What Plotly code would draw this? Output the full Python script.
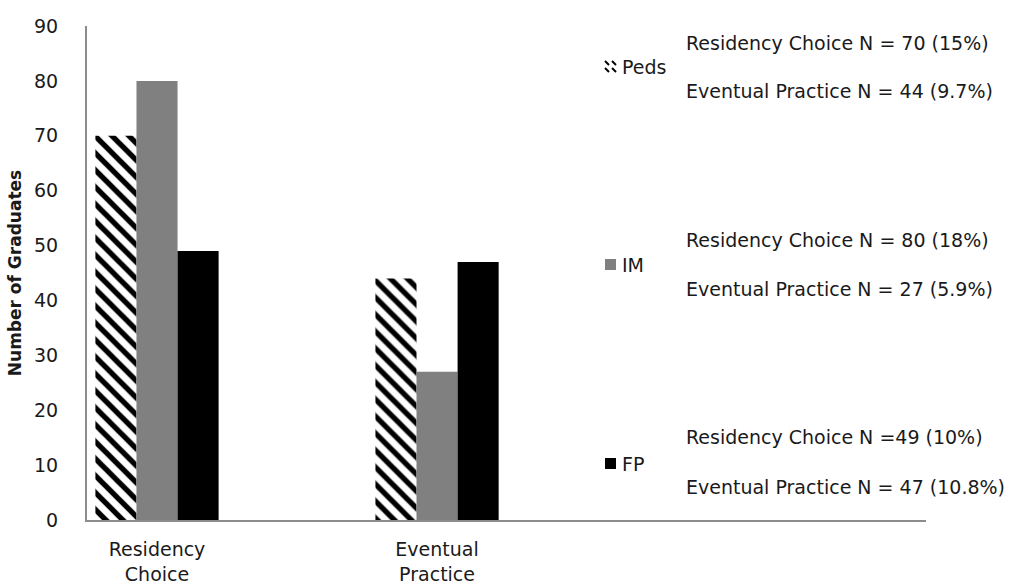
import plotly.graph_objects as go

# Graduates by specialty: residency choice vs. eventual practice
categories = ["Residency<br>Choice", "Eventual<br>Practice"]
series = ["Peds", "IM", "FP"]
residency_n = [70, 80, 49]
practice_n = [44, 27, 47]
residency_pct = ["15%", "18%", "10%"]
practice_pct = ["9.7%", "5.9%", "10.8%"]
y_ticks = [0, 10, 20, 30, 40, 50, 60, 70, 80, 90]

FONT = "DejaVu Sans"
TEXT = "#1a1a1a"
AXIS = "#8c8c8c"
FS = 19
KEY_FS = 19

fig = go.Figure()
x_pos = [0, 1]
styles = {
    "Peds": dict(color="white", pattern=dict(shape="\\", fgcolor="#000000", bgcolor="#ffffff",
                                             fgopacity=1, size=12, solidity=0.45,
                                             fillmode="replace")),
    "IM": dict(color="#808080"),
    "FP": dict(color="#000000"),
}
for i, name in enumerate(series):
    fig.add_trace(go.Bar(
        x=x_pos, y=[residency_n[i], practice_n[i]], name=name,
        marker=dict(line=dict(width=0), **styles[name]),
        showlegend=False,
    ))

# Right-hand key: swatch, series name and the two counts
PLOT_L, PLOT_R, PLOT_T, PLOT_B = 87, 926, 26, 520
def px(x):
    return (x - PLOT_L) / (PLOT_R - PLOT_L)
def py(y):
    return (PLOT_B - y) / (PLOT_B - PLOT_T)

key_rows = [(43, 67, 91), (240, 265, 289), (437, 464, 487)]
swatch = {"Peds": "white", "IM": "#808080", "FP": "#000000"}
shapes = []
annotations = []
for i, name in enumerate(series):
    top, mid, bot = key_rows[i]
    sep = "=" if name == "FP" else "= "
    annotations.append(dict(x=px(684), y=py(top), xref="paper", yref="paper",
                            text=f"Residency Choice N {sep}{residency_n[i]} ({residency_pct[i]})",
                            showarrow=False, xanchor="left", yanchor="middle",
                            font=dict(size=KEY_FS)))
    annotations.append(dict(x=px(684), y=py(bot), xref="paper", yref="paper",
                            text=f"Eventual Practice N = {practice_n[i]} ({practice_pct[i]})",
                            showarrow=False, xanchor="left", yanchor="middle",
                            font=dict(size=KEY_FS)))
    annotations.append(dict(x=px(620), y=py(mid), xref="paper", yref="paper",
                            text=name, showarrow=False, xanchor="left", yanchor="middle",
                            font=dict(size=KEY_FS)))
    x0, x1 = px(605), px(616)
    y0, y1 = py(mid + 5), py(mid - 6)
    shapes.append(dict(type="rect", xref="paper", yref="paper", x0=x0, x1=x1, y0=y0, y1=y1,
                       fillcolor=swatch[name], line=dict(width=0)))
    if name == "Peds":
        # small hatched swatch
        for a, b, c, d in [(605, mid - 6, 609, mid - 2), (612, mid - 6, 616, mid - 2),
                           (605, mid + 1, 609, mid + 5), (612, mid + 1, 616, mid + 5)]:
            shapes.append(dict(type="line", xref="paper", yref="paper",
                               x0=px(a), y0=py(b), x1=px(c), y1=py(d),
                               line=dict(color="black", width=2)))

fig.update_layout(
    width=1021, height=584,
    margin=dict(l=PLOT_L, r=1021 - PLOT_R, t=PLOT_T, b=584 - PLOT_B),
    paper_bgcolor="white", plot_bgcolor="white",
    barmode="group", bargap=0.56, bargroupgap=0,
    font=dict(family=FONT, size=FS, color=TEXT),
    shapes=shapes, annotations=annotations,
    xaxis=dict(range=[-0.25, 2.746], tickvals=x_pos, ticktext=categories,
               showline=True, linecolor=AXIS, linewidth=2, showgrid=False,
               ticks="", zeroline=False, tickfont=dict(size=FS), ticklabelstandoff=11,
               automargin=False),
    yaxis=dict(range=[0, 90], tickvals=y_ticks, showline=True, linecolor=AXIS,
               linewidth=2, showgrid=False, ticks="", zeroline=False,
               tickfont=dict(size=FS), ticklabelstandoff=23, automargin=False,
               title=dict(text="<b>Number of Graduates</b>", font=dict(size=17), standoff=8)),
)

fig.write_html("out.html")
